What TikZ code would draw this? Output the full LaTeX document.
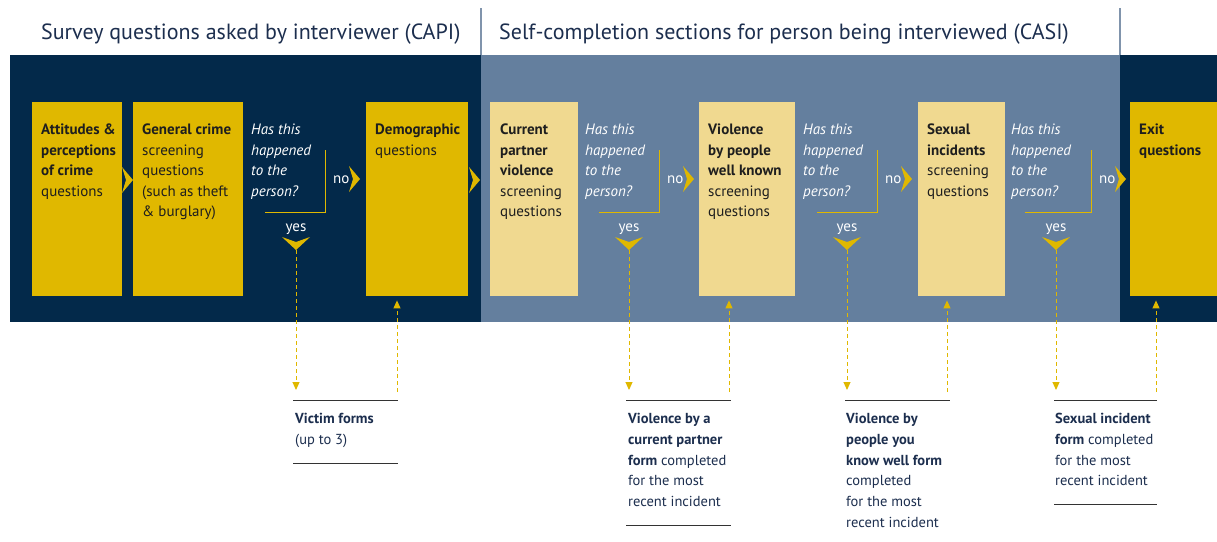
\documentclass[tikz,border=0pt]{standalone}
\usepackage{fontspec}
\setmainfont{PT Sans}
\usetikzlibrary{arrows.meta,positioning,calc}
\definecolor{navy}{HTML}{03294A}
\definecolor{casiblue}{HTML}{647F9E}
\definecolor{capigold}{HTML}{E0B800}
\definecolor{palegold}{HTML}{F0D990}
\definecolor{inktext}{HTML}{1E1E1E}
\definecolor{headtext}{HTML}{1C2E4E}
\definecolor{rulegrey}{HTML}{8094AC}
% right and down chevrons, gold
\newcommand{\rchev}[2]{\fill[capigold] (#1,#2) ++(0,-13) -- ++(11,13) -- ++(-11,13) -- ++(4,-13) -- cycle;}
\newcommand{\dchev}[2]{\fill[capigold] (#1,#2) ++(-14,-13) -- ++(14,5) -- ++(14,-5) -- ++(-14,13) -- cycle;}
\tikzset{
  stage/.style={fill=capigold, anchor=north west, minimum height=194pt, inner sep=0pt},
  casistage/.style={stage, fill=palegold},
  stagetext/.style={anchor=north west, align=left, inner sep=0pt, text=inktext, font=\fontsize{15}{20.5}\selectfont},
  asktext/.style={stagetext, text=white, font=\fontsize{15}{20.5}\selectfont\itshape},
  answer/.style={text=white, inner sep=0pt, anchor=base, font=\fontsize{15}{18}\selectfont},
  formtext/.style={anchor=north west, align=left, inner sep=0pt, text=headtext, font=\fontsize{14.5}{20.8}\selectfont},
  heading/.style={anchor=base west, inner sep=0pt, text=headtext, font=\fontsize{22}{26}\selectfont},
  dashflow/.style={draw=capigold, dash pattern=on 4pt off 3pt, line width=1pt, -{Triangle[width=7pt,length=8pt]}},
  bracket/.style={draw=capigold, line width=1pt},
  formrule/.style={draw=black!80, line width=1pt}
}
\begin{document}
\begin{tikzpicture}[x=1pt,y=-1pt]
\useasboundingbox (0,0) rectangle (1217,541);
% headings
\node[heading] (capi) at (41,39) {Survey questions asked by interviewer (CAPI)};
\node[heading] (casi) at (499,39) {Self-completion sections for person being interviewed (CASI)};
% background bands
\fill[navy] (10,55) rectangle (1217,322);
\fill[casiblue] (481,55) rectangle (1120,322);
\draw[rulegrey, line width=1.5pt] (481,8) -- (481,55) (1120,8) -- (1120,55);
% question stages
\node[stage, minimum width=90pt] (att) at (32,102) {};
\node[stage, minimum width=110pt] (gen) at (133,102) {};
\node[stage, minimum width=102pt] (demo) at (366,102) {};
\node[casistage, minimum width=88pt] (cpv) at (490,102) {};
\node[casistage, minimum width=96pt] (wkv) at (699,102) {};
\node[casistage, minimum width=87pt] (sex) at (918,102) {};
\node[stage, minimum width=87pt] (exit) at (1130,102) {};
\node[stagetext] (att-t) at ([shift={(9,22)}]att.north west) {\textbf{Attitudes \&}\\\textbf{perceptions}\\\textbf{of crime}\\questions};
\node[stagetext] (gen-t) at ([shift={(9,22)}]gen.north west) {\textbf{General crime}\\screening\\questions\\(such as theft\\\& burglary)};
\node[stagetext] (demo-t) at ([shift={(9,22)}]demo.north west) {\textbf{Demographic}\\questions};
\node[stagetext] (cpv-t) at ([shift={(10,22)}]cpv.north west) {\textbf{Current}\\\textbf{partner}\\\textbf{violence}\\screening\\questions};
\node[stagetext] (wkv-t) at ([shift={(9,22)}]wkv.north west) {\textbf{Violence}\\\textbf{by people}\\\textbf{well known}\\screening\\questions};
\node[stagetext] (sex-t) at ([shift={(9,22)}]sex.north west) {\textbf{Sexual}\\\textbf{incidents}\\screening\\questions};
\node[stagetext] (exit-t) at ([shift={(9,22)}]exit.north west) {\textbf{Exit}\\\textbf{questions}};
\rchev{122}{180}
\rchev{469}{180}
% filter questions
\foreach \n/\qx/\bx/\yx in {1/251/325/296, 2/585/659/629, 3/803/877/847, 4/1011/1091/1056} {
  \node[asktext] (ask\n) at (\qx,124) {Has this\\happened\\to the\\person?};
  \draw[bracket] (\bx,150) -- (\bx,212) -- (\qx+14,212);
  \node[answer, anchor=base west] (no\n) at (\bx+8,183) {no};
  \rchev{\bx+24}{179}
  \node[answer] (yes\n) at (\yx,231) {yes};
  \dchev{\yx}{250}
  \coordinate (tip\n) at (\yx,250);
}
% forms
\coordinate (vf-in) at (296,390);
\coordinate (vf-out) at (397,392);
\node[formtext] (vf) at (295,413) {\textbf{Victim forms}\\(up to 3)};
\draw[formrule] (293,400) -- (398,400) (293,463) -- (398,463);
\draw[dashflow] (tip1) -- (vf-in);
\draw[dashflow, shorten >=4pt] (vf-out) -- (vf-out |- demo.south);
\coordinate (cf-in) at (629,390);
\coordinate (cf-out) at (729,392);
\node[formtext] (cf) at (628,413) {\textbf{Violence by a}\\\textbf{current partner}\\\textbf{form} completed\\for the most\\recent incident};
\draw[formrule] (626,400) -- (731,400) (626,525) -- (731,525);
\draw[dashflow] (tip2) -- (cf-in);
\draw[dashflow, shorten >=4pt] (cf-out) -- (cf-out |- wkv.south);
\coordinate (kf-in) at (847,390);
\coordinate (kf-out) at (947,392);
\node[formtext] (kf) at (846,413) {\textbf{Violence by}\\\textbf{people you}\\\textbf{know well form}\\completed\\for the most\\recent incident};
\draw[formrule] (845,400) -- (950,400);
\draw[dashflow] (tip3) -- (kf-in);
\draw[dashflow, shorten >=4pt] (kf-out) -- (kf-out |- sex.south);
\coordinate (sf-in) at (1056,390);
\coordinate (sf-out) at (1156,392);
\node[formtext] (sf) at (1055,413) {\textbf{Sexual incident}\\\textbf{form} completed\\for the most\\recent incident};
\draw[formrule] (1054,400) -- (1157,400) (1054,504) -- (1157,504);
\draw[dashflow] (tip4) -- (sf-in);
\draw[dashflow, shorten >=4pt] (sf-out) -- (sf-out |- exit.south);
\end{tikzpicture}
\end{document}
